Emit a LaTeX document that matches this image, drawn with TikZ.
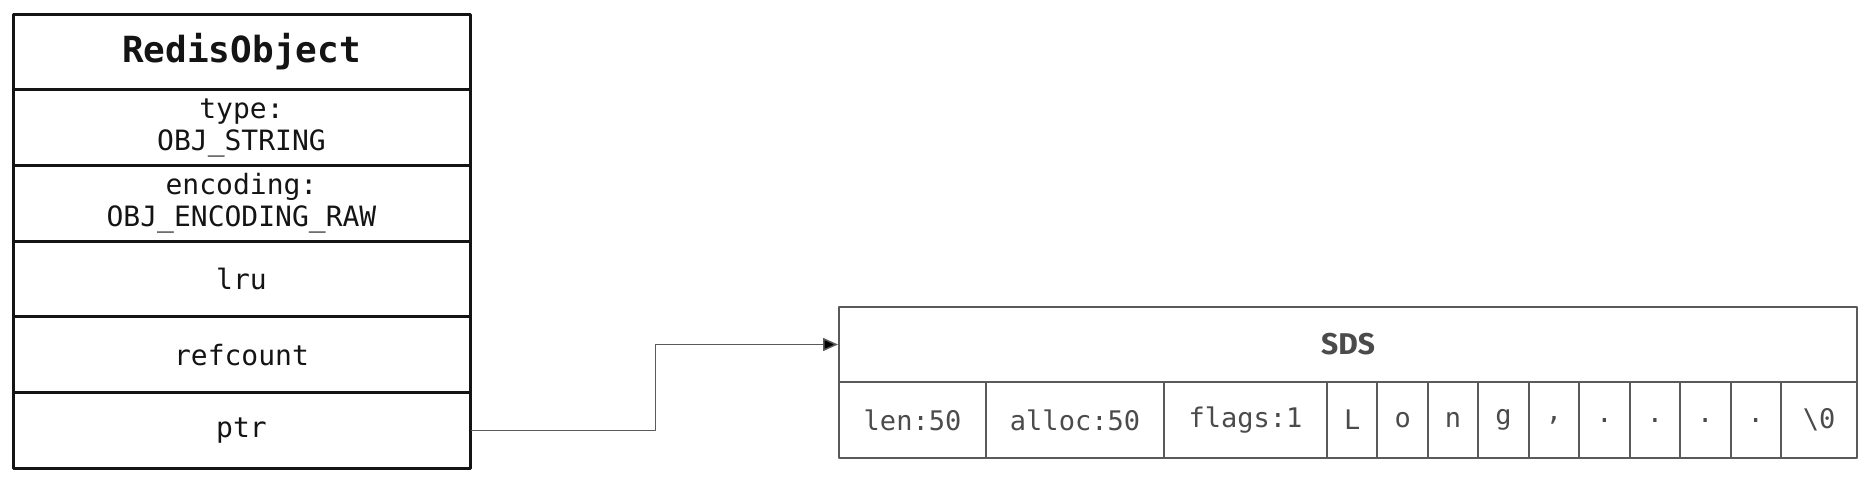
\documentclass[tikz,border=0pt]{standalone}
\usepackage{fontspec}
\setmonofont{DejaVu Sans Mono}
\newfontfamily\sdsfont{Fira Sans}
\usetikzlibrary{arrows.meta}
\definecolor{objline}{RGB}{20,20,20}
\definecolor{sdsline}{RGB}{90,90,90}
\definecolor{sdstext}{RGB}{75,75,75}
\tikzset{
    lab/.style={
        font=\ttfamily\fontsize{28}{32}\selectfont
    }
}

\begin{document}
\begin{tikzpicture}[x=1pt,y=-1pt, line cap=round, line join=round]

\tikzset{
  objrow/.style={draw=objline, line width=3pt, minimum width=457pt, minimum height=75.7pt, inner sep=0pt, align=center, lab, text=objline},
  sdshead/.style={draw=sdsline, line width=2pt, minimum width=1018pt, minimum height=75pt, inner sep=0pt,
    font=\sdsfont\bfseries\fontsize{30}{36}\selectfont, text=sdstext},
  cell/.style={draw=sdsline, line width=2pt, minimum height=76pt, inner sep=0pt,
    font=\ttfamily\fontsize{27}{30}\selectfont, text=sdstext},
  link/.style={draw=sdsline, line width=1.5pt, -{Triangle[length=15pt,width=13pt,fill=black]}},
}

\useasboundingbox (0,0) rectangle (1868,498);

% RedisObject
\node[objrow, font=\ttfamily\bfseries\fontsize{36}{40}\selectfont] (obj) at (241.5,51.9) {RedisObject};
\node[objrow] (ftype) at (241.5,127.6) {type:\\OBJ\_STRING};
\node[objrow] (fenc) at (241.5,203.3) {encoding:\\OBJ\_ENCODING\_RAW};
\node[objrow] (flru) at (241.5,279.0) {lru};
\node[objrow] (fref) at (241.5,354.7) {refcount};
\node[objrow] (fptr) at (241.5,430.4) {ptr};

% SDS
\node[sdshead] (sds) at (1348,344.5) {SDS};
\node[cell, minimum width=147pt] (len) at (912.5,420) {len:50};
\node[cell, minimum width=178pt] (alloc) at (1075,420) {alloc:50};
\node[cell, minimum width=163pt] (flags) at (1245.5,420) {flags:1};
\foreach \ch [count=\i] in {L,o,n,g,{,},.,.,.,.}
  \node[cell, minimum width=50.44pt] (c\i) at (1327+50.44*\i-25.22,420) {\ch};
\node[cell, minimum width=76pt] (nul) at (1819,420) {\textbackslash0};

% pointer
\draw[link] (fptr.east) -- ++(184,0) |- (sds.west);

\end{tikzpicture}
\end{document}
